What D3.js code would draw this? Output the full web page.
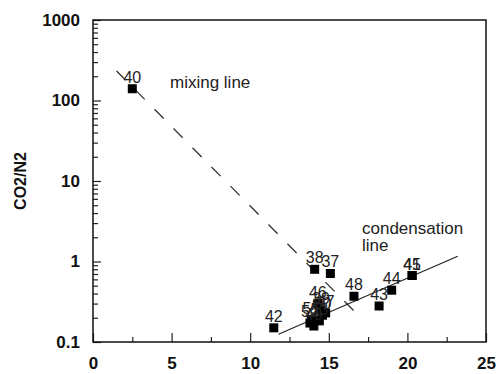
<!DOCTYPE html>
<html><head><meta charset="utf-8">
<script src="https://cdn.jsdelivr.net/npm/d3@7"></script>
<style>
html,body{margin:0;padding:0;background:#fff;}
svg{display:block;font-family:Arial,"Liberation Sans",sans-serif;}
</style></head>
<body><svg id="c" width="498" height="374"></svg>
<script>
// Data
const sampleLabels = ["40","38","37","48","43","44","45","41","42","46","47","50","39","51","52","49","53"];
const sampleX =      [2.5, 14.1, 15.1, 16.6, 18.2, 19.0, 20.3, 20.3, 11.5, 14.3, 14.8, 14.6, 14.5, 13.9, 13.8, 14.05, 14.4];
const sampleY =      [140, 0.80, 0.71, 0.37, 0.28, 0.44, 0.67, 0.67, 0.15, 0.30, 0.23, 0.215, 0.25, 0.19, 0.172, 0.158, 0.183];
const mixingX = [1.5, 16.7];
const mixingY = [233, 0.232];
const condX = [11.8, 23.2];
const condY = [0.125, 1.16];
const xTicks = [0, 5, 10, 15, 20, 25];
const xMinor = [2.5, 7.5, 12.5, 17.5, 22.5];
const yTicks = [0.1, 1, 10, 100, 1000];
const yTickLabels = ["0.1", "1", "10", "100", "1000"];
const yLabel = "CO2/N2";

const svg = d3.select("#c");
const L = 93, R = 486, T = 20, B = 342;
const x = d3.scaleLinear().domain([0, 25]).range([L, R]);
const y = d3.scaleLog().domain([0.1, 1000]).range([B, T]);

const yMinor = [];
for (let d = 0.1; d < 1000; d *= 10) for (let k = 2; k <= 9; k++) yMinor.push(d * k);

// Minor ticks
svg.append("g").attr("transform", `translate(${L},0)`)
  .call(d3.axisLeft(y).tickValues(yMinor).tickSize(-5).tickFormat(""))
  .call(g => g.select(".domain").remove())
  .call(g => g.selectAll("line").attr("stroke", "#222").attr("stroke-width", 1.2));
svg.append("g").attr("transform", `translate(0,${B})`)
  .call(d3.axisBottom(x).tickValues(xMinor).tickSize(-5).tickFormat(""))
  .call(g => g.select(".domain").remove())
  .call(g => g.selectAll("line").attr("stroke", "#222").attr("stroke-width", 1.2));

// Major ticks
svg.append("g").attr("transform", `translate(${L},0)`)
  .call(d3.axisLeft(y).tickValues(yTicks).tickSize(-8).tickPadding(13)
    .tickFormat((d, i) => yTickLabels[i]))
  .call(g => g.select(".domain").remove())
  .call(g => g.selectAll("line").attr("stroke", "#222").attr("stroke-width", 1.2))
  .call(g => g.selectAll("text").attr("font-size", 17).attr("font-weight", "bold")
    .attr("fill", "#111").attr("font-family", "Arial, 'Liberation Sans', sans-serif"));
svg.append("g").attr("transform", `translate(0,${B})`)
  .call(d3.axisBottom(x).tickValues(xTicks).tickSize(-9).tickPadding(15).tickFormat(d3.format("d")))
  .call(g => g.select(".domain").remove())
  .call(g => g.selectAll("line").attr("stroke", "#222").attr("stroke-width", 1.2))
  .call(g => g.selectAll("text").attr("font-size", 17).attr("font-weight", "bold")
    .attr("fill", "#111").attr("font-family", "Arial, 'Liberation Sans', sans-serif"));

// Frame
svg.append("rect").attr("x", L).attr("y", T).attr("width", R - L).attr("height", B - T)
  .attr("fill", "none").attr("stroke", "#111").attr("stroke-width", 1.5);

// Y label
svg.append("text").attr("transform", `translate(26,${(T + B) / 2}) rotate(-90)`)
  .attr("text-anchor", "middle").attr("font-size", 16).attr("font-weight", "bold")
  .attr("fill", "#111").text(yLabel);

// Lines
const line = d3.line().x(d => x(d[0])).y(d => y(d[1]));
svg.append("path").datum(d3.zip(mixingX, mixingY)).attr("d", line)
  .attr("fill", "none").attr("stroke", "#333").attr("stroke-width", 1.3)
  .attr("stroke-dasharray", "13,14");
svg.append("path").datum(d3.zip(condX, condY)).attr("d", line)
  .attr("fill", "none").attr("stroke", "#222").attr("stroke-width", 1.2);

// Markers
const pts = sampleLabels.map((l, i) => ({l, x: sampleX[i], y: sampleY[i]}));
svg.append("g").selectAll("rect").data(pts).join("rect")
  .attr("x", d => x(d.x) - 4.5).attr("y", d => y(d.y) - 4.5)
  .attr("width", 9).attr("height", 9).attr("fill", "#000");
svg.append("g").selectAll("text").data(pts).join("text")
  .attr("x", d => x(d.x)).attr("y", d => y(d.y) - 6)
  .attr("text-anchor", "middle").attr("font-size", 16).attr("fill", "#222")
  .text(d => d.l);

// Annotations
svg.append("text").attr("x", 170).attr("y", 88).attr("font-size", 17).attr("fill", "#222").text("mixing line");
svg.append("text").attr("x", 362).attr("y", 234).attr("font-size", 17).attr("fill", "#222").text("condensation");
svg.append("text").attr("x", 362).attr("y", 251).attr("font-size", 17).attr("fill", "#222").text("line");
</script></body></html>
